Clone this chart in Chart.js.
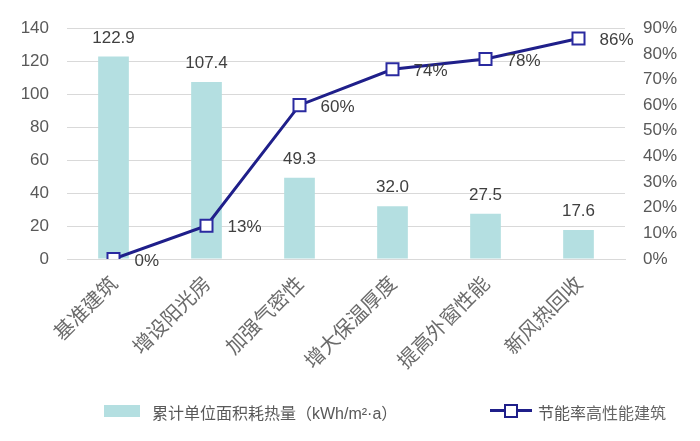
<!DOCTYPE html>
<html lang="zh">
<head>
  <meta charset="UTF-8">
  <title>节能率</title>
  <script src="https://cdn.jsdelivr.net/npm/chart.js"></script>
  <style>
    body {
      margin: 0;
      background: #fff;
      font-family: "Liberation Sans", "Noto Sans CJK SC", sans-serif;
    }
    .wrap {
      position: relative;
      width: 700px;
      height: 441px;
    }
    .legend {
      position: absolute;
      top: 400px;
      left: 0;
      width: 700px;
      height: 22px;
      font-size: 16px;
      color: #595959;
    }
    .legend span { position: absolute; top: 0; white-space: nowrap; }
    .box {
      position: absolute;
      left: 104px;
      top: 5px;
      width: 36px;
      height: 12px;
      background: #b4dfe1;
    }
    .lline {
      position: absolute;
      left: 490px;
      top: 9px;
      width: 42px;
      height: 3px;
      background: #1f1f8a;
    }
    .lmark {
      position: absolute;
      left: 504px;
      top: 4px;
      width: 10px;
      height: 10px;
      border: 2px solid #1f1f8a;
      background: #fff;
    }
  </style>
</head>
<body>
  <div class="wrap">
    <canvas id="chart" width="700" height="441"></canvas>
    <div class="legend">
      <div class="box"></div>
      <span style="left:152px">累计单位面积耗热量（kWh/m²·a）</span>
      <div class="lline"></div>
      <div class="lmark"></div>
      <span style="left:538px">节能率<span style="position:static;color:#666">高性能建筑</span></span>
    </div>
  </div>

  <script>
    const categories = ["基准建筑", "增设阳光房", "加强气密性", "增大保温厚度", "提高外窗性能", "新风热回收"];
    const heatValues = [122.9, 107.4, 49.3, 32.0, 27.5, 17.6];
    const savingRates = [0, 0.13, 0.60, 0.74, 0.78, 0.86];

    // draws value labels: bars above, line points to the right
    const valueLabels = {
      id: "valueLabels",
      afterDatasetsDraw(chart) {
        const ctx = chart.ctx;
        ctx.save();
        ctx.font = "17px 'Liberation Sans', Arial, sans-serif";
        ctx.fillStyle = "#404040";
        chart.getDatasetMeta(1).data.forEach((bar, i) => {
          ctx.textAlign = "center";
          ctx.textBaseline = "bottom";
          ctx.fillText(heatValues[i].toFixed(1), bar.x, bar.y - 10);
        });
        chart.getDatasetMeta(0).data.forEach((pt, i) => {
          ctx.textAlign = "left";
          ctx.textBaseline = "middle";
          ctx.fillText(Math.round(savingRates[i] * 100) + "%", pt.x + 21, pt.y + 2);
        });
        ctx.restore();
      }
    };

    new Chart(document.getElementById("chart"), {
      data: {
        labels: categories,
        datasets: [
          {
            type: "line",
            label: "节能率",
            data: savingRates,
            yAxisID: "y1",
            borderColor: "#1f1f8a",
            borderWidth: 3,
            pointStyle: "rect",
            pointRadius: 8.5,
            pointBorderWidth: 2,
            pointBackgroundColor: "#fff",
            pointBorderColor: "#2a2aa0",
            tension: 0,
            order: 1
          },
          {
            type: "bar",
            label: "累计单位面积耗热量（kWh/m²·a）",
            data: heatValues,
            yAxisID: "y",
            backgroundColor: "#b4dfe1",
            categoryPercentage: 1,
            barPercentage: 0.33,
            order: 2
          }
        ]
      },
      options: {
        responsive: false,
        animation: false,
        layout: { padding: { top: 25, bottom: 0, left: 0, right: 0 } },
        plugins: {
          legend: { display: false },
          tooltip: { enabled: false }
        },
        scales: {
          x: {
            grid: { display: false },
            border: { color: "#d9d9d9" },
            ticks: {
              color: "#6b6b6b",
              font: { size: 20, family: "'Noto Sans CJK SC', sans-serif" },
              minRotation: 45,
              maxRotation: 45,
              padding: 4
            },
            afterFit(scale) { scale.height = 182; }
          },
          y: {
            position: "left",
            min: 0,
            max: 140,
            ticks: {
              stepSize: 20,
              color: "#595959",
              font: { size: 17, family: "'Liberation Sans', Arial, sans-serif" },
              padding: 18
            },
            grid: { color: "#d9d9d9", drawTicks: false },
            border: { display: false },
            afterFit(scale) { scale.width = 67; }
          },
          y1: {
            position: "right",
            min: 0,
            max: 0.9,
            ticks: {
              stepSize: 0.1,
              color: "#595959",
              font: { size: 17, family: "'Liberation Sans', Arial, sans-serif" },
              padding: 18,
              callback: v => Math.round(v * 100) + "%"
            },
            grid: { display: false, drawTicks: false },
            border: { display: false },
            afterFit(scale) { scale.width = 75; }
          }
        }
      },
      plugins: [valueLabels]
    });
  </script>
</body>
</html>
